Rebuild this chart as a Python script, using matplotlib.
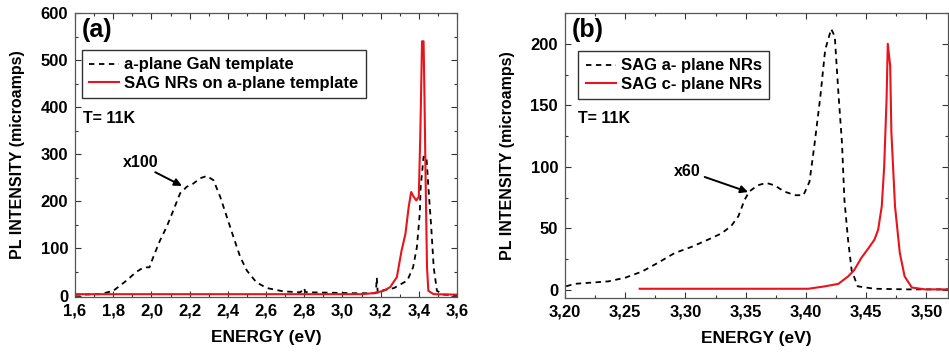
import numpy as np
import matplotlib.pyplot as plt
from matplotlib.ticker import MultipleLocator, FuncFormatter

plt.rcParams['font.family'] = ['Liberation Sans', 'DejaVu Sans']
plt.rcParams['font.weight'] = 'bold'

# panel (a): a-plane GaN template (x100 below 3.3 eV)
ea_tmpl = [1.60, 1.63, 1.73, 1.80, 1.87, 1.92, 1.96, 1.99, 2.01, 2.045, 2.08, 2.115,
           2.15, 2.185, 2.22, 2.255, 2.29, 2.325, 2.36, 2.395, 2.43, 2.465, 2.50,
           2.55, 2.605, 2.69, 2.78, 2.795, 2.80, 2.805, 2.82, 2.95, 3.06, 3.13,
           3.175, 3.18, 3.185, 3.20, 3.27, 3.34, 3.37, 3.39, 3.405, 3.41, 3.425,
           3.44, 3.45, 3.465, 3.478, 3.495, 3.53, 3.60]
ia_tmpl = [2, 2, 3, 10, 32, 50, 60, 60, 82, 117, 146, 181,
           217, 231, 238, 249, 254, 245, 210, 167, 124, 82, 53,
           28, 16, 9, 7, 14, 16, 8, 7, 6, 5, 5,
           5, 38, 6, 10, 16, 32, 60, 103, 174, 231, 295,
           295, 231, 146, 60, 10, 2, 1]

# panel (a): SAG NRs on a-plane template
ea_nrs = [1.60, 2.50, 3.10, 3.16, 3.215, 3.25, 3.285, 3.31, 3.33, 3.347, 3.36, 3.373,
          3.387, 3.40, 3.408, 3.417, 3.425, 3.43, 3.436, 3.443, 3.45, 3.478, 3.60]
ia_nrs = [3, 3, 3, 5, 10, 18, 39, 96, 131, 188, 220, 210,
          202, 210, 344, 540, 540, 415, 238, 60, 10, 3, 2]

# panel (b): SAG a-plane NRs (x60)
eb_a = [3.201, 3.208, 3.222, 3.236, 3.25, 3.264, 3.277, 3.291, 3.305, 3.319, 3.33,
        3.338, 3.344, 3.349, 3.353, 3.36, 3.367, 3.374, 3.382, 3.391, 3.398, 3.403,
        3.407, 3.412, 3.416, 3.421, 3.424, 3.427, 3.43, 3.432, 3.435, 3.438, 3.443,
        3.457, 3.485, 3.518]
ib_a = [3, 5, 6, 7, 10, 15, 22, 30, 35, 41, 46,
        52, 60, 73, 80, 85, 87, 85, 80, 77, 77, 88,
        117, 157, 195, 212, 206, 160, 119, 73, 41, 16, 3,
        1, 0.5, 0.5]

# panel (b): SAG c-plane NRs
eb_c = [3.262, 3.34, 3.399, 3.402, 3.416, 3.427, 3.435, 3.44, 3.446, 3.452, 3.457,
        3.46, 3.463, 3.465, 3.467, 3.468, 3.47, 3.471, 3.474, 3.478, 3.482, 3.488,
        3.499, 3.518]
ib_c = [1, 1, 1, 1, 3, 5, 11, 16, 26, 34, 41,
        49, 68, 100, 155, 200, 182, 128, 68, 30, 11, 2,
        0.5, 0.5]


def comma(fmt):
    return FuncFormatter(lambda v, p: (fmt % v).replace('.', ','))


def style(ax):
    ax.tick_params(which='both', direction='in', top=True, right=True,
                   labelsize=12, width=0.8, colors='#333333', labelcolor='black', pad=5)
    ax.tick_params(which='major', length=4)
    ax.tick_params(which='minor', length=2)
    for s in ax.spines.values():
        s.set_color('#555555')
        s.set_linewidth(0.9)
    for lab in ax.get_xticklabels() + ax.get_yticklabels():
        lab.set_fontweight('bold')
    ax.set_xlabel('ENERGY (eV)', fontsize=12.5, fontweight='bold', labelpad=8)
    ax.set_ylabel('PL INTENSITY (microamps)', fontsize=11.5, fontweight='bold', labelpad=11)


fig = plt.figure(figsize=(9.49, 3.52), dpi=100)
ax1 = fig.add_axes([75 / 949, 1 - 297 / 352, 382 / 949, 284 / 352])
ax2 = fig.add_axes([565 / 949, 1 - 298 / 352, 383 / 949, 285 / 352])

leg_kw = dict(loc='upper left', frameon=True, fancybox=False, edgecolor='black',
              handlelength=1.8, handletextpad=0.3, borderpad=0.45, labelspacing=0.2,
              borderaxespad=0, prop={'weight': 'bold', 'size': 12})

ax1.plot(ea_tmpl, ia_tmpl, color='black', ls=(0, (3, 2.5)), lw=1.3, label='a-plane GaN template')
ax1.plot(ea_nrs, ia_nrs, color='#e8141c', lw=1.5, label='SAG NRs on a-plane template')
ax1.set_xlim(1.6, 3.6)
ax1.set_ylim(-3, 600)
ax1.xaxis.set_major_locator(MultipleLocator(0.2))
ax1.xaxis.set_minor_locator(MultipleLocator(0.1))
ax1.yaxis.set_major_locator(MultipleLocator(100))
ax1.yaxis.set_minor_locator(MultipleLocator(50))
ax1.xaxis.set_major_formatter(comma('%.1f'))
style(ax1)
leg1 = ax1.legend(bbox_to_anchor=(0.018, 0.87), **leg_kw)
leg1.get_frame().set_linewidth(1.0)
ax1.text(0.018, 0.94, '(a)', transform=ax1.transAxes, fontsize=18, fontweight='bold', va='center')
ax1.text(0.022, 0.63, 'T= 11K', transform=ax1.transAxes, fontsize=11.5, fontweight='bold', va='center')
ax1.text(1.85, 273, 'x100', fontsize=11.5, fontweight='bold')
ax1.annotate('', xy=(2.16, 233), xytext=(2.02, 262),
             arrowprops=dict(arrowstyle='-|>', color='black', lw=1.4, mutation_scale=11,
                             shrinkA=0, shrinkB=0))

ax2.plot(eb_a, ib_a, color='black', ls=(0, (3, 2.5)), lw=1.3, label='SAG a- plane NRs')
ax2.plot(eb_c, ib_c, color='#e8141c', lw=1.5, label='SAG c- plane NRs')
ax2.set_xlim(3.20, 3.518)
ax2.set_ylim(-6.5, 225)
ax2.xaxis.set_major_locator(MultipleLocator(0.05))
ax2.xaxis.set_minor_locator(MultipleLocator(0.025))
ax2.yaxis.set_major_locator(MultipleLocator(50))
ax2.yaxis.set_minor_locator(MultipleLocator(25))
ax2.xaxis.set_major_formatter(comma('%.2f'))
style(ax2)
leg2 = ax2.legend(bbox_to_anchor=(0.034, 0.867), **leg_kw)
leg2.get_frame().set_linewidth(1.0)
ax2.text(0.018, 0.94, '(b)', transform=ax2.transAxes, fontsize=18, fontweight='bold', va='center')
ax2.text(0.034, 0.63, 'T= 11K', transform=ax2.transAxes, fontsize=11.5, fontweight='bold', va='center')
ax2.text(3.29, 92.6, 'x60', fontsize=11.5, fontweight='bold')
ax2.annotate('', xy=(3.352, 79.6), xytext=(3.316, 91.8),
             arrowprops=dict(arrowstyle='-|>', color='black', lw=1.4, mutation_scale=11,
                             shrinkA=0, shrinkB=0))

fig.savefig('out.png', dpi=100)
